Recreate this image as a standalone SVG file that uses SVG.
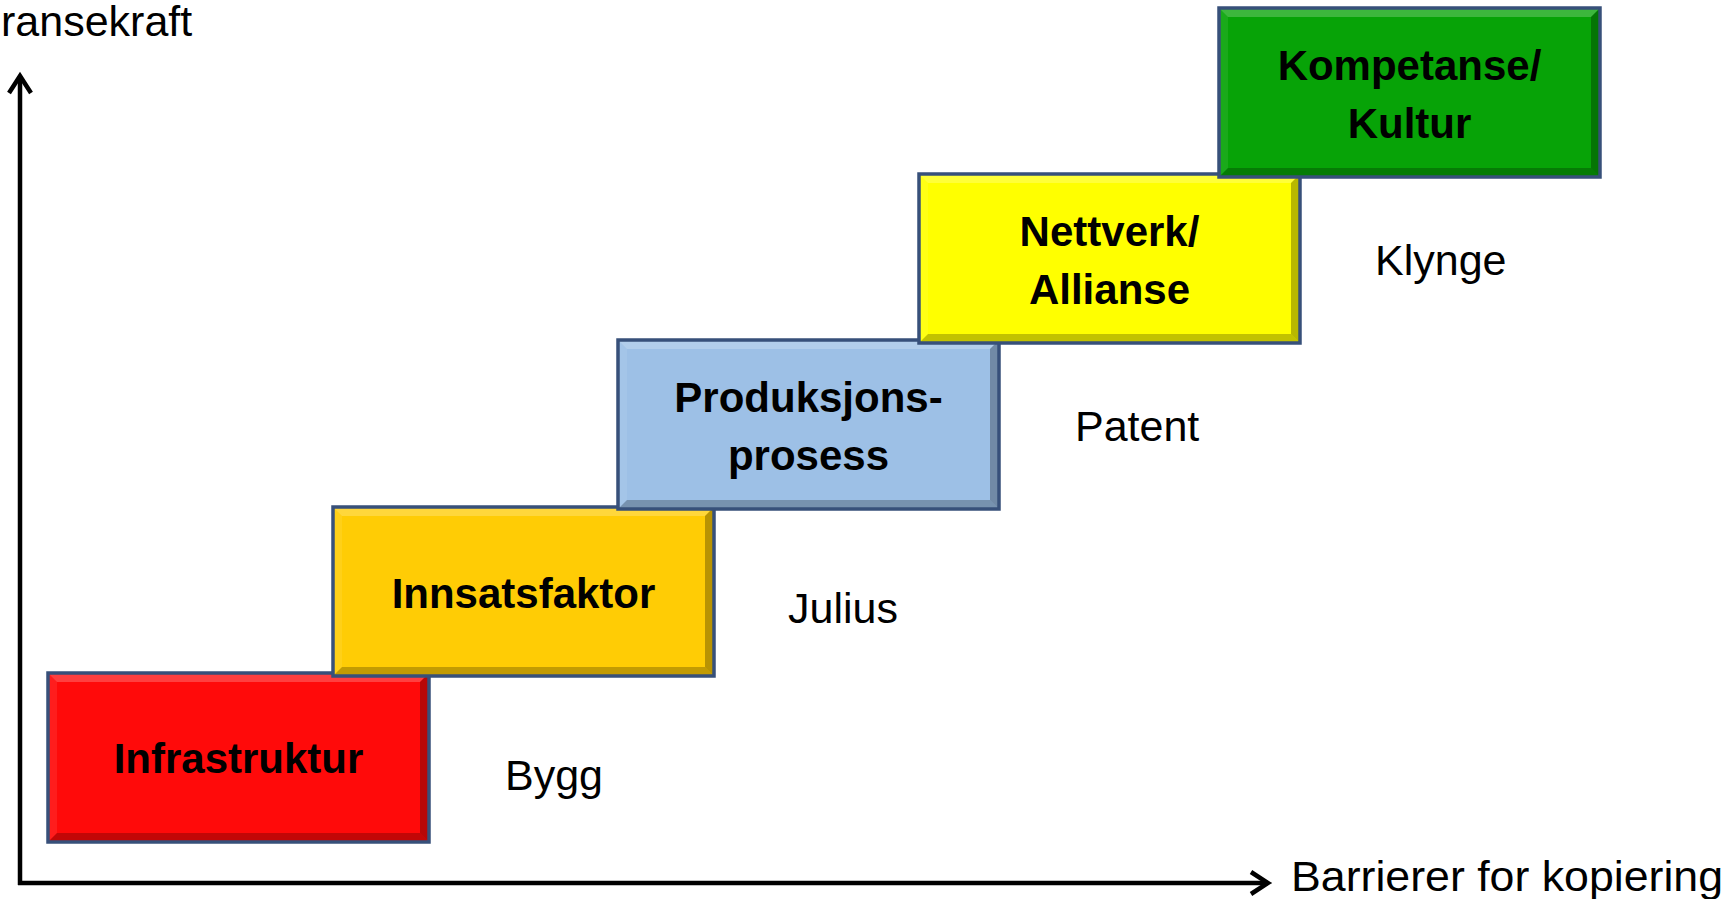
<svg xmlns="http://www.w3.org/2000/svg" width="1730" height="899" viewBox="0 0 1730 899">
<style>
.lbl{font-family:"Liberation Sans",Arial,sans-serif;font-size:43px;fill:#000}
.bx{font-family:"Liberation Sans",Arial,sans-serif;font-size:42px;font-weight:bold;fill:#000;text-anchor:middle}
.edge{fill:none;stroke:#37507a;stroke-width:3.5}
.ax{fill:none;stroke:#000;stroke-width:4.5}
</style>
<defs>
<marker id="ah" viewBox="0 0 28 28" refX="23" refY="14" markerWidth="28" markerHeight="28" markerUnits="userSpaceOnUse" orient="auto">
<path d="M6,3 L23,14 L6,25" fill="none" stroke="#000" stroke-width="4.5"/>
</marker>
<g id="bevel">
<polygon points="0,0 381,0 372,9 9,9" fill="#fff" fill-opacity="0.22"/>
<polygon points="0,0 9,9 9,160 0,169" fill="#fff" fill-opacity="0.08"/>
<polygon points="381,0 381,169 372,160 372,9" fill="#000" fill-opacity="0.28"/>
<polygon points="0,169 381,169 372,160 9,160" fill="#000" fill-opacity="0.24"/>
<rect x="0" y="0" width="381" height="169" class="edge"/>
</g>
</defs>
<rect width="1730" height="899" fill="#fff"/>
<g id="connectors">
<line x1="20" y1="885" x2="20" y2="76" class="ax" marker-end="url(#ah)"/>
<line x1="18" y1="883" x2="1268" y2="883" class="ax" marker-end="url(#ah)"/>
</g>
<text class="lbl" x="1" y="36">ransekraft</text>
<text class="lbl" x="1291" y="891" textLength="432" lengthAdjust="spacingAndGlyphs">Barrierer for kopiering</text>
<g id="n1" transform="translate(48,673)">
<rect width="381" height="169" fill="#ff0a0a"/>
<use href="#bevel"/>
<text class="bx" x="190.5" y="100">Infrastruktur</text>
</g>
<g id="n2" transform="translate(333,507)">
<rect width="381" height="169" fill="#ffcc05"/>
<use href="#bevel"/>
<text class="bx" x="190.5" y="101">Innsatsfaktor</text>
</g>
<g id="n3" transform="translate(618,340)">
<rect width="381" height="169" fill="#9dc0e6"/>
<use href="#bevel"/>
<text class="bx" x="190.5" y="72">Produksjons-</text>
<text class="bx" x="190.5" y="130">prosess</text>
</g>
<g id="n4" transform="translate(919,174)">
<rect width="381" height="169" fill="#ffff00"/>
<use href="#bevel"/>
<text class="bx" x="190.5" y="72">Nettverk/</text>
<text class="bx" x="190.5" y="130">Allianse</text>
</g>
<g id="n5" transform="translate(1219,8)">
<rect width="381" height="169" fill="#07a307"/>
<use href="#bevel"/>
<text class="bx" x="190.5" y="72">Kompetanse/</text>
<text class="bx" x="190.5" y="130">Kultur</text>
</g>
<text class="lbl" x="505" y="790">Bygg</text>
<text class="lbl" x="788" y="623">Julius</text>
<text class="lbl" x="1075" y="441">Patent</text>
<text class="lbl" x="1375" y="275">Klynge</text>
</svg>
